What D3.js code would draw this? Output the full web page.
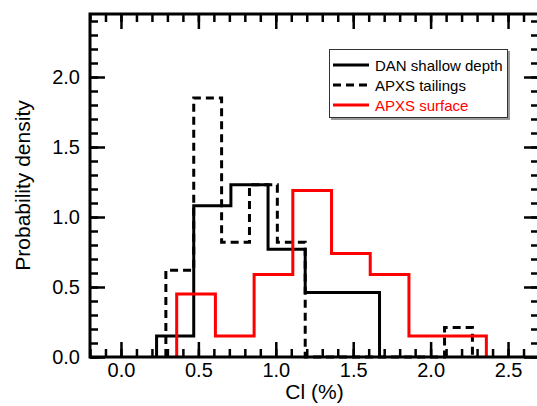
<!DOCTYPE html>
<html>
<head>
<meta charset="utf-8">
<script src="https://cdn.jsdelivr.net/npm/d3@7.9.0/dist/d3.min.js"></script>
<style>
  body { margin: 0; background: #fff; }
  svg { display: block; font-family: "Liberation Sans", Arial, Helvetica, sans-serif; }
</style>
</head>
<body>
<svg id="chart" width="537" height="406"></svg>
<script>
// histogram bin edges and probability densities
const danEdges = [0.23, 0.47, 0.71, 0.95, 1.19, 1.43, 1.67];
const danDensity = [0.15, 1.08, 1.23, 0.77, 0.46, 0.46];

const tailEdges = [0.29, 0.47, 0.65, 0.83, 1.01, 1.19, 1.37, 1.55, 1.73, 1.91, 2.09, 2.27];
const tailDensity = [0.62, 1.85, 0.82, 1.23, 0.82, 0, 0, 0, 0, 0, 0.21];

const surfEdges = [0.36, 0.61, 0.86, 1.11, 1.36, 1.61, 1.86, 2.11, 2.36];
const surfDensity = [0.45, 0.15, 0.59, 1.19, 0.74, 0.59, 0.15, 0.15];

const seriesNames = ['DAN shallow depth', 'APXS tailings', 'APXS surface'];
const xTicks = [0, 0.5, 1.0, 1.5, 2.0, 2.5];
const yTicks = [0, 0.5, 1.0, 1.5, 2.0];

const svg = d3.select('#chart');
const mLeft = 90, mRight = 539, mTop = 14, mBottom = 357;

const x = d3.scaleLinear().domain([-0.2, 2.7]).range([mLeft, mRight]);
const y = d3.scaleLinear().domain([0, 2.45]).range([mBottom, mTop]);

// turn edges + densities into a closed step outline
function stepPoints(edges, dens) {
  const pts = [[edges[0], 0]];
  dens.forEach((d, i) => {
    pts.push([edges[i], d]);
    pts.push([edges[i + 1], d]);
  });
  pts.push([edges[edges.length - 1], 0]);
  return pts;
}

const line = d3.line().x(d => x(d[0])).y(d => y(d[1]));

const series = [
  { name: seriesNames[0], pts: stepPoints(danEdges, danDensity), color: '#000', dash: null },
  { name: seriesNames[1], pts: stepPoints(tailEdges, tailDensity), color: '#000', dash: '8,5' },
  { name: seriesNames[2], pts: stepPoints(surfEdges, surfDensity), color: '#ff0000', dash: null }
];

series.forEach(s => {
  svg.append('path')
    .attr('d', line(s.pts))
    .attr('fill', 'none')
    .attr('stroke', s.color)
    .attr('stroke-width', 3)
    .attr('stroke-dasharray', s.dash);
});

// axes: major + minor ticks, pointing inward, mirrored on top/right
function styleAxis(g) {
  g.select('.domain').remove();
  g.selectAll('line').attr('stroke', '#000').attr('stroke-width', 2.5);
  g.selectAll('text').attr('font-size', 20).attr('fill', '#000')
    .attr('font-family', '"Liberation Sans", Arial, Helvetica, sans-serif');
}

const xMinor = x.ticks(30);
const yMinor = y.ticks(25);
const fmt = d3.format('.1f');

svg.append('g').attr('transform', `translate(0,${mBottom})`)
  .call(d3.axisBottom(x).tickValues(xMinor).tickSize(-8).tickFormat(''))
  .call(styleAxis);
svg.append('g').attr('transform', `translate(0,${mBottom})`)
  .call(d3.axisBottom(x).tickValues(xTicks).tickSize(-15).tickPadding(6).tickFormat(fmt))
  .call(styleAxis);
svg.append('g').attr('transform', `translate(0,${mTop})`)
  .call(d3.axisTop(x).tickValues(xMinor).tickSize(-8).tickFormat(''))
  .call(styleAxis);
svg.append('g').attr('transform', `translate(0,${mTop})`)
  .call(d3.axisTop(x).tickValues(xTicks).tickSize(-15).tickFormat(''))
  .call(styleAxis);

svg.append('g').attr('transform', `translate(${mLeft},0)`)
  .call(d3.axisLeft(y).tickValues(yMinor).tickSize(-8).tickFormat(''))
  .call(styleAxis);
svg.append('g').attr('transform', `translate(${mLeft},0)`)
  .call(d3.axisLeft(y).tickValues(yTicks).tickSize(-15).tickPadding(10).tickFormat(fmt))
  .call(styleAxis);
svg.append('g').attr('transform', `translate(${mRight},0)`)
  .call(d3.axisRight(y).tickValues(yMinor).tickSize(-8).tickFormat(''))
  .call(styleAxis);
svg.append('g').attr('transform', `translate(${mRight},0)`)
  .call(d3.axisRight(y).tickValues(yTicks).tickSize(-15).tickFormat(''))
  .call(styleAxis);

// frame
svg.append('rect')
  .attr('x', mLeft).attr('y', mTop)
  .attr('width', mRight - mLeft).attr('height', mBottom - mTop)
  .attr('fill', 'none').attr('stroke', '#000').attr('stroke-width', 3);

// axis titles
svg.append('text')
  .attr('x', (mLeft + mRight) / 2).attr('y', 399)
  .attr('text-anchor', 'middle').attr('font-size', 21)
  .text('Cl (%)');
svg.append('text')
  .attr('transform', `translate(30,${(mTop + mBottom) / 2}) rotate(-90)`)
  .attr('text-anchor', 'middle').attr('font-size', 21)
  .text('Probability density');

// legend
const lg = svg.append('g');
lg.append('rect').attr('x', 331).attr('y', 51).attr('width', 179).attr('height', 69)
  .attr('fill', '#999');
lg.append('rect').attr('x', 329.5).attr('y', 49.5).attr('width', 178).attr('height', 68)
  .attr('fill', '#fff').attr('stroke', '#333').attr('stroke-width', 1);

series.forEach((s, i) => {
  const ly = 65 + i * 20;
  lg.append('line')
    .attr('x1', 333).attr('x2', 369).attr('y1', ly).attr('y2', ly)
    .attr('stroke', s.color).attr('stroke-width', 3)
    .attr('stroke-dasharray', s.dash);
  lg.append('text')
    .attr('x', 375).attr('y', ly + 5.5)
    .attr('font-size', 15).attr('fill', s.color)
    .text(s.name);
});
</script>
</body>
</html>
